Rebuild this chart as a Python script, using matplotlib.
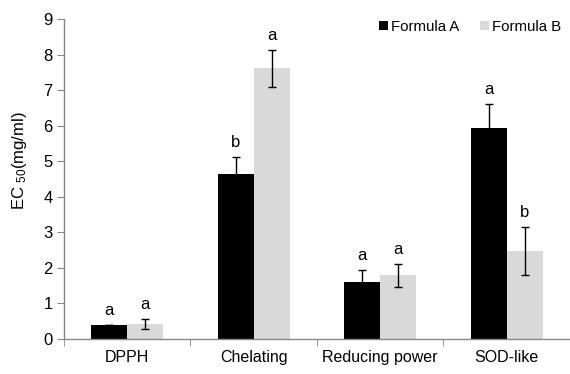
import matplotlib
matplotlib.use("Agg")
import matplotlib.pyplot as plt
import numpy as np

plt.rcParams['font.family'] = ['Liberation Sans', 'DejaVu Sans']
plt.rcParams['mathtext.fontset'] = 'custom'
plt.rcParams['mathtext.rm'] = 'Liberation Sans'
plt.rcParams['mathtext.it'] = 'Liberation Sans'

categories = ['DPPH', 'Chelating', 'Reducing power', 'SOD-like']
formula_a = [0.38, 4.63, 1.61, 5.93]
formula_a_err = [0.0, 0.48, 0.33, 0.67]
formula_b = [0.42, 7.62, 1.79, 2.48]
formula_b_err = [0.13, 0.52, 0.32, 0.68]
letters_a = ['a', 'b', 'a', 'a']
letters_b = ['a', 'a', 'a', 'b']
series_names = ['Formula A', 'Formula B']

fig = plt.figure(figsize=(5.70, 3.74), dpi=100)
ax = fig.add_axes([0.112, 0.0936, 0.888, 0.855])

x = np.arange(len(categories))
w = 0.285
axis_grey = '#878787'
ax.bar(x - w/2, formula_a, w, color='black', label=series_names[0], zorder=2)
ax.bar(x + w/2, formula_b, w, color='#d9d9d9', label=series_names[1], zorder=2)
ax.errorbar(x - w/2, formula_a, yerr=formula_a_err, fmt='none', ecolor='black',
            elinewidth=1, capsize=3, capthick=1, zorder=3)
ax.errorbar(x + w/2, formula_b, yerr=formula_b_err, fmt='none', ecolor='black',
            elinewidth=1, capsize=3, capthick=1, zorder=3)

for i in range(len(categories)):
    ax.text(x[i] - w/2, formula_a[i] + formula_a_err[i] + 0.2, letters_a[i],
            ha='center', va='bottom', fontsize=12)
    ax.text(x[i] + w/2, formula_b[i] + formula_b_err[i] + 0.2, letters_b[i],
            ha='center', va='bottom', fontsize=12)

ax.set_xlim(-0.5, 3.5)
ax.set_ylim(0, 9)
ax.set_yticks(range(10))
ax.set_xticks(x)
ax.set_xticklabels(categories, fontsize=11.5)
ax.set_xticks([-0.5, 0.5, 1.5, 2.5], minor=True)
ax.tick_params(axis='x', which='major', length=0, pad=8)
ax.tick_params(axis='x', which='minor', length=5, color=axis_grey, direction='out')
ax.tick_params(axis='y', length=5, color=axis_grey, labelsize=12, pad=3)

for s in ['top', 'right']:
    ax.spines[s].set_visible(False)
for s in ['left', 'bottom']:
    ax.spines[s].set_color(axis_grey)
    ax.spines[s].set_linewidth(1)

fig.text(20 / 570, 1 - 161 / 374, 'EC $_{50}$(mg/ml)', rotation=90,
         ha='center', va='center', fontsize=12)

leg = ax.legend(loc='upper right', bbox_to_anchor=(1.01, 1.04), ncol=2, frameon=False,
                fontsize=10.8, handlelength=0.6, handleheight=0.6, handletextpad=0.2,
                columnspacing=1.4)

fig.savefig('out.png', dpi=100)
